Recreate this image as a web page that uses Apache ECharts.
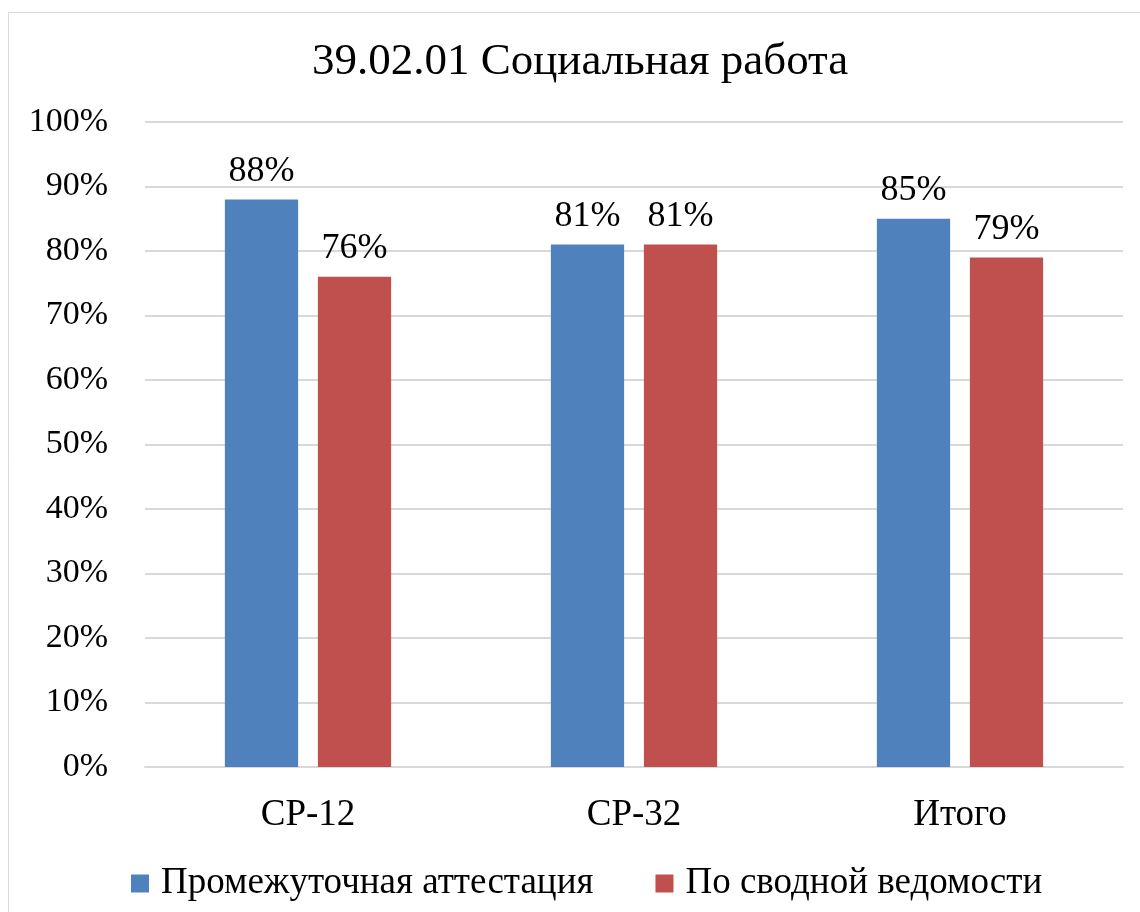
<!DOCTYPE html>
<html><head><meta charset="utf-8">
<script src="https://cdn.jsdelivr.net/npm/echarts@6/dist/echarts.min.js"></script>
<style>html,body{margin:0;padding:0;background:#fff}#c{width:1140px;height:912px}</style>
</head><body><div id="c"></div>
<script>
const categories = ['СР-12', 'СР-32', 'Итого'];
const seriesNames = ['Промежуточная аттестация', 'По сводной ведомости'];
const interim = [88, 81, 85];
const summary = [76, 81, 79];
const titleText = '39.02.01 Социальная работа';

const FONT = '"Liberation Serif", "Times New Roman", serif';
const chart = echarts.init(document.getElementById('c'), null, {renderer: 'canvas'});
const labelCfg = {show: true, position: 'top', distance: 10, formatter: p => p.value + '%',
  fontFamily: FONT, fontSize: 36, color: '#000'};
chart.setOption({
  animation: false,
  graphic: [{type: 'rect', shape: {x: 8.5, y: 12.5, width: 1200, height: 1000},
    style: {fill: 'none', stroke: '#d9d9d9', lineWidth: 1}, z: -1}],
  title: {text: titleText, left: 307, top: 35,
    textStyle: {fontFamily: FONT, fontSize: 45, fontWeight: 'normal', color: '#000'}},
  grid: {left: 145, right: 17, top: 122, bottom: 145, containLabel: false},
  legend: {top: 860, left: 126, itemWidth: 18, itemHeight: 18, itemGap: 62,
    icon: 'rect', textStyle: {fontFamily: FONT, fontSize: 37, color: '#000', padding: [0, 0, 0, 7]},
    data: seriesNames},
  xAxis: {type: 'category', data: categories,
    axisLine: {lineStyle: {color: '#d9d9d9', width: 2}}, axisTick: {show: false},
    axisLabel: {fontFamily: FONT, fontSize: 37, color: '#000', margin: 30}},
  yAxis: {type: 'value', min: 0, max: 100, interval: 10,
    axisLabel: {formatter: '{value}%', fontFamily: FONT, fontSize: 34, color: '#000', margin: 37},
    splitLine: {lineStyle: {color: '#d9d9d9', width: 2}},
    axisLine: {show: false}, axisTick: {show: false}},
  series: [
    {name: seriesNames[0], type: 'bar', data: interim, itemStyle: {color: '#4F81BD'},
      barGap: '27%', barCategoryGap: '49%', label: labelCfg},
    {name: seriesNames[1], type: 'bar', data: summary, itemStyle: {color: '#C0504D'},
      barGap: '27%', barCategoryGap: '49%', label: labelCfg}
  ]
});
</script></body></html>
